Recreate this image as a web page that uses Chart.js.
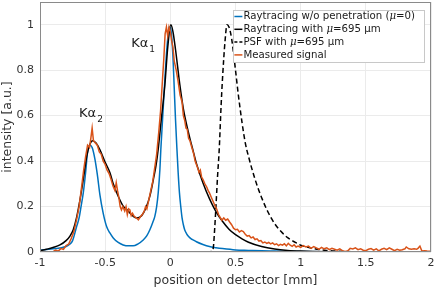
<!DOCTYPE html>
<html>
<head>
<meta charset="utf-8">
<script src="https://cdn.jsdelivr.net/npm/chart.js@4.4.0/dist/chart.umd.min.js"></script>
<style>
	body { margin: 0; background: #fff; }
</style>
</head>
<body>
<canvas id="chart" width="436" height="291"></canvas>
<script>
// values
var xTicks = [-1, -0.5, 0, 0.5, 1, 1.5, 2];
var yTicks = [0, 0.2, 0.4, 0.6, 0.8, 1];

var seriesNames = [
	"Raytracing w/o penetration (μ=0)",
	"Raytracing with μ=695 µm",
	"PSF with μ=695 µm",
	"Measured signal",
];

// Raytracing w/o penetration
var noPenX = [-1, -0.95, -0.9, -0.85, -0.8, -0.77, -0.75, -0.72, -0.7, -0.685, -0.668, -0.65, -0.635, -0.617, -0.6,
	-0.579, -0.56, -0.54, -0.515, -0.489, -0.465, -0.438, -0.4, -0.362, -0.32, -0.285, -0.25, -0.208, -0.18, -0.157,
	-0.135, -0.119, -0.105, -0.093, -0.08, -0.073, -0.06, -0.05, -0.04, -0.03, -0.02, -0.01, 0, 0.01, 0.02,
	0.03, 0.04, 0.05, 0.06, 0.07, 0.08, 0.09, 0.1, 0.11, 0.125, 0.14, 0.16, 0.175, 0.2, 0.25,
	0.3, 0.35, 0.4, 0.5, 0.6, 0.7, 0.8, 1, 1.2, 1.5, 2];
var noPenY = [0.008, 0.011, 0.014, 0.018, 0.024, 0.035, 0.05, 0.11, 0.15, 0.2, 0.26, 0.35, 0.44, 0.47, 0.46,
	0.41, 0.34, 0.25, 0.17, 0.112, 0.085, 0.062, 0.042, 0.031, 0.027, 0.027, 0.035, 0.053, 0.072, 0.098,
	0.13, 0.157, 0.2, 0.26, 0.364, 0.45, 0.58, 0.68, 0.78, 0.87, 0.94, 0.99, 0.985, 0.95, 0.86,
	0.72, 0.58, 0.46, 0.35, 0.26, 0.2, 0.15, 0.12, 0.098, 0.08, 0.068, 0.058, 0.053, 0.045, 0.033,
	0.024, 0.019, 0.015, 0.009, 0.007, 0.005, 0.004, 0.002, 0.001, 0.001, 0];

// Raytracing with mu = 695 um
var withPenX = [-1, -0.95, -0.9, -0.847, -0.8, -0.77, -0.745, -0.72, -0.693, -0.665, -0.642, -0.62, -0.596, -0.57, -0.54,
	-0.5, -0.464, -0.438, -0.4, -0.36, -0.33, -0.3, -0.26, -0.22, -0.19, -0.157, -0.13, -0.11, -0.093, -0.07,
	-0.042, -0.02, 0.004, 0.02, 0.04, 0.073, 0.1, 0.125, 0.15, 0.175, 0.2, 0.25, 0.3, 0.35, 0.4,
	0.45, 0.5, 0.55, 0.6, 0.7, 0.8, 0.9, 1.0, 1.2, 1.5, 2];
var withPenY = [0.005, 0.012, 0.02, 0.031, 0.05, 0.07, 0.098, 0.15, 0.23, 0.33, 0.42, 0.47, 0.49, 0.48, 0.45,
	0.395, 0.35, 0.3, 0.245, 0.2, 0.185, 0.165, 0.15, 0.16, 0.19, 0.246, 0.32, 0.38, 0.453, 0.58,
	0.735, 0.9, 1.0, 0.97, 0.89, 0.735, 0.63, 0.56, 0.5, 0.445, 0.39, 0.305, 0.235, 0.178, 0.135,
	0.1, 0.076, 0.058, 0.043, 0.024, 0.013, 0.007, 0.004, 0.001, 0, 0];

// PSF with mu = 695 um
var psfX = [0.28, 0.32, 0.33, 0.34, 0.35, 0.362, 0.375, 0.39, 0.4, 0.42, 0.435, 0.45, 0.47, 0.5, 0.52,
	0.55, 0.575, 0.6, 0.65, 0.7, 0.75, 0.8, 0.85, 0.9, 0.95, 1.0, 1.1, 1.2, 1.3, 1.5, 2];
var psfY = [0, 0.003, 0.02, 0.1, 0.2, 0.33, 0.45, 0.65, 0.76, 0.93, 1.0, 0.99, 0.94, 0.8, 0.7,
	0.57, 0.48, 0.42, 0.32, 0.24, 0.175, 0.125, 0.09, 0.063, 0.045, 0.03, 0.015, 0.007, 0.003, 0.001, 0];

// Measured signal
var measX = [-0.9, -0.88, -0.86, -0.84, -0.82, -0.8, -0.78, -0.76, -0.74, -0.72, -0.7, -0.68, -0.665, -0.65, -0.635,
	-0.62, -0.61, -0.6, -0.59, -0.575, -0.56, -0.545, -0.53, -0.515, -0.5, -0.485, -0.47, -0.455, -0.44, -0.425,
	-0.415, -0.405, -0.395, -0.385, -0.375, -0.365, -0.35, -0.34, -0.33, -0.32, -0.31, -0.3, -0.29, -0.275, -0.26,
	-0.245, -0.23, -0.215, -0.2, -0.19, -0.18, -0.165, -0.15, -0.135, -0.12, -0.105, -0.09, -0.075, -0.06, -0.05,
	-0.04, -0.03, -0.02, -0.01, 0, 0.01, 0.02, 0.03, 0.045, 0.06, 0.075, 0.09, 0.1, 0.11, 0.12,
	0.13, 0.14, 0.15, 0.165, 0.18, 0.19, 0.2, 0.21, 0.22, 0.23, 0.24, 0.25, 0.265, 0.28, 0.29,
	0.3, 0.315, 0.33, 0.345, 0.355, 0.37, 0.38, 0.395, 0.41, 0.425, 0.44, 0.455, 0.47, 0.485, 0.5,
	0.515, 0.53, 0.545, 0.56, 0.575, 0.59, 0.605, 0.62, 0.635, 0.65, 0.665, 0.68, 0.695, 0.71, 0.725,
	0.74, 0.755, 0.77, 0.785, 0.8, 0.815, 0.83, 0.845, 0.86, 0.875, 0.89, 0.905, 0.92, 0.935, 0.95,
	0.965, 0.98, 1.0, 1.02, 1.04, 1.06, 1.08, 1.1, 1.12, 1.14, 1.16, 1.18, 1.2, 1.22, 1.24,
	1.26, 1.28, 1.3, 1.32, 1.34, 1.36, 1.38, 1.4, 1.42, 1.44, 1.46, 1.48, 1.5, 1.52, 1.54,
	1.56, 1.58, 1.6, 1.62, 1.64, 1.66, 1.68, 1.7, 1.72, 1.74, 1.76, 1.78, 1.8, 1.81, 1.83,
	1.85, 1.87, 1.89, 1.9, 1.915, 1.93, 1.95, 1.97, 2.0];
var measY = [0.002, 0.008, 0.004, 0.015, 0.012, 0.028, 0.035, 0.06, 0.09, 0.14, 0.2, 0.29, 0.36, 0.42, 0.47,
	0.46, 0.5, 0.545, 0.49, 0.48, 0.47, 0.44, 0.43, 0.4, 0.385, 0.36, 0.345, 0.32, 0.29, 0.27,
	0.305, 0.27, 0.24, 0.2, 0.185, 0.2, 0.18, 0.2, 0.165, 0.19, 0.185, 0.16, 0.17, 0.155, 0.15,
	0.142, 0.155, 0.165, 0.18, 0.2, 0.19, 0.23, 0.27, 0.31, 0.37, 0.43, 0.52, 0.62, 0.76, 0.85,
	0.96, 0.99, 0.95, 0.99, 0.97, 0.93, 0.9, 0.84, 0.8, 0.75, 0.69, 0.66, 0.6, 0.58, 0.545,
	0.54, 0.5, 0.49, 0.46, 0.43, 0.4, 0.385, 0.37, 0.35, 0.36, 0.33, 0.32, 0.3, 0.285, 0.27,
	0.26, 0.24, 0.22, 0.2, 0.19, 0.165, 0.155, 0.14, 0.15, 0.14, 0.145, 0.132, 0.12, 0.105, 0.098,
	0.1, 0.088, 0.094, 0.09, 0.078, 0.07, 0.072, 0.062, 0.066, 0.055, 0.058, 0.048, 0.05, 0.04, 0.044,
	0.038, 0.042, 0.036, 0.04, 0.032, 0.036, 0.028, 0.034, 0.03, 0.036, 0.027, 0.038, 0.03, 0.025, 0.032,
	0.022, 0.026, 0.02, 0.028, 0.022, 0.026, 0.016, 0.024, 0.018, 0.012, 0.02, 0.014, 0.018, 0.01, 0.016,
	0.012, 0.008, 0.014, 0.006, 0.002, 0.004, 0.016, 0.013, 0.018, 0.01, 0.014, 0.008, 0.006, 0.012, 0.015,
	0.008, 0.014, 0.005, 0.012, 0.016, 0.01, 0.018, 0.012, 0.006, 0.012, 0.008, 0.01, 0.014, 0.022, 0.014,
	0.012, 0.014, 0.012, 0.016, 0.026, 0.004, 0.006, 0.004, 0.003];

// peak labels
var peakNames = ["Kα", "Kα"];
var peakSubs = ["1", "2"];
var peakX = [-0.3, -0.7];
var peakY = [0.9, 0.595];

var colors = ["#0072BD", "#000000", "#000000", "#D95319"];

function toPoints(xs, ys) {
	return xs.map(function (x, i) {
		return { x: x, y: ys[i] };
	});
}

// italic mu inside a label, the rest upright
function drawMixed(ctx, text, x, y, size) {
	var parts = text.split("μ");
	for (var i = 0; i < parts.length; i++) {
		ctx.font = size + "px 'DejaVu Sans'";
		ctx.fillText(parts[i], x, y);
		x += ctx.measureText(parts[i]).width;
		if (i < parts.length - 1) {
			ctx.font = "italic " + size + "px 'DejaVu Serif'";
			ctx.fillText("μ", x, y);
			x += ctx.measureText("μ").width;
		}
	}
	return x;
}

function drawWidth(ctx, text, size) {
	var parts = text.split("μ");
	var w = 0;
	for (var i = 0; i < parts.length; i++) {
		ctx.font = size + "px 'DejaVu Sans'";
		w += ctx.measureText(parts[i]).width;
		if (i < parts.length - 1) {
			ctx.font = "italic " + size + "px 'DejaVu Serif'";
			w += ctx.measureText("μ").width;
		}
	}
	return w;
}

var framePlugin = {
	id: "frame",
	afterDatasetsDraw: function (chart) {
		var ctx = chart.ctx;
		var a = chart.chartArea;
		ctx.save();
		ctx.strokeStyle = "#8a8a8a";
		ctx.lineWidth = 1;
		ctx.strokeRect(Math.round(a.left) + 0.5, Math.round(a.top) + 0.5,
			Math.round(a.right - a.left) - 1, Math.round(a.bottom - a.top) - 1);

		// peak labels with subscripts
		ctx.fillStyle = "#1a1a1a";
		ctx.textBaseline = "alphabetic";
		for (var i = 0; i < peakNames.length; i++) {
			var px = chart.scales.x.getPixelForValue(peakX[i]);
			var py = chart.scales.y.getPixelForValue(peakY[i]);
			ctx.font = "13px 'DejaVu Sans'";
			ctx.fillText(peakNames[i], px, py);
			var w = ctx.measureText(peakNames[i]).width;
			ctx.font = "9px 'DejaVu Sans'";
			ctx.fillText(peakSubs[i], px + w + 1, py + 5);
		}
		ctx.restore();
	},
};

var legendPlugin = {
	id: "legendBox",
	afterDraw: function (chart) {
		var ctx = chart.ctx;
		var a = chart.chartArea;
		var size = 10.2;
		var rowH = 12.8;
		ctx.save();
		var maxW = 0;
		for (var i = 0; i < seriesNames.length; i++) {
			var w = drawWidth(ctx, seriesNames[i], size);
			if (w > maxW) maxW = w;
		}
		var boxW = maxW + 19;
		var boxH = rowH * seriesNames.length + 1;
		var right = Math.round(a.right) - 7;
		var top = Math.round(a.top) + 8;
		var left = right - boxW;
		ctx.fillStyle = "#ffffff";
		ctx.fillRect(left, top, boxW, boxH);
		ctx.strokeStyle = "#c8c8c8";
		ctx.lineWidth = 1;
		ctx.strokeRect(Math.round(left) + 0.5, top + 0.5, Math.round(boxW), Math.round(boxH));
		ctx.textBaseline = "middle";
		for (var j = 0; j < seriesNames.length; j++) {
			var cy = top + 6.5 + j * rowH;
			ctx.strokeStyle = colors[j];
			ctx.lineWidth = 1.5;
			ctx.setLineDash(j === 2 ? [3, 2] : []);
			ctx.beginPath();
			ctx.moveTo(left + 1, cy);
			ctx.lineTo(left + 9, cy);
			ctx.stroke();
			ctx.setLineDash([]);
			ctx.fillStyle = "#1a1a1a";
			drawMixed(ctx, seriesNames[j], left + 10, cy, size);
		}
		ctx.restore();
	},
};

function lineSet(label, xs, ys, color, dash, smooth, order) {
	return {
		label: label,
		data: toPoints(xs, ys),
		showLine: true,
		borderColor: color,
		backgroundColor: color,
		borderWidth: 1.5,
		borderDash: dash,
		pointRadius: 0,
		fill: false,
		cubicInterpolationMode: smooth ? "monotone" : "default",
		tension: 0,
		order: order,
	};
}

var ctx = document.getElementById("chart").getContext("2d");
var chart = new Chart(ctx, {
	type: "scatter",
	data: {
		datasets: [
			lineSet(seriesNames[0], noPenX, noPenY, colors[0], [], true, 3),
			lineSet(seriesNames[1], withPenX, withPenY, colors[1], [], true, 2),
			lineSet(seriesNames[2], psfX, psfY, colors[2], [5, 3], true, 1),
			lineSet(seriesNames[3], measX, measY, colors[3], [], false, 0),
		],
	},
	options: {
		responsive: false,
		animation: false,
		layout: {
			padding: { left: 0, right: 5, top: 2, bottom: 0 },
		},
		plugins: {
			legend: { display: false },
			tooltip: { enabled: false },
		},
		scales: {
			x: {
				type: "linear",
				min: -1,
				max: 2,
				afterBuildTicks: function (scale) {
					scale.ticks = xTicks.map(function (v) { return { value: v }; });
				},
				afterFit: function (scale) {
					scale.height = 39;
					scale.paddingLeft = 0;
					scale.paddingRight = 0;
				},
				grid: {
					color: "#ebebeb",
					drawTicks: false,
				},
				border: { display: false },
				ticks: {
					color: "#333333",
					padding: 5,
					maxRotation: 0,
					font: { family: "DejaVu Sans", size: 11 },
					callback: function (v) { return String(v); },
				},
				title: {
					display: true,
					text: "position on detector [mm]",
					color: "#333333",
					font: { family: "DejaVu Sans", size: 12.5 },
					padding: { top: 0, bottom: 3 },
				},
			},
			y: {
				type: "linear",
				min: 0,
				max: 1.1,
				afterBuildTicks: function (scale) {
					scale.ticks = yTicks.map(function (v) { return { value: v }; });
				},
				afterFit: function (scale) {
					scale.width = 40;
					scale.paddingTop = 0;
					scale.paddingBottom = 0;
				},
				grid: {
					color: "#ebebeb",
					drawTicks: false,
				},
				border: { display: false },
				ticks: {
					color: "#333333",
					padding: 6,
					font: { family: "DejaVu Sans", size: 11 },
					callback: function (v) { return String(v); },
				},
				title: {
					display: true,
					text: "intensity [a.u.]",
					color: "#333333",
					font: { family: "DejaVu Sans", size: 12.5 },
					padding: { top: 0, bottom: 0 },
				},
			},
		},
	},
	plugins: [framePlugin, legendPlugin],
});
</script>
</body>
</html>
